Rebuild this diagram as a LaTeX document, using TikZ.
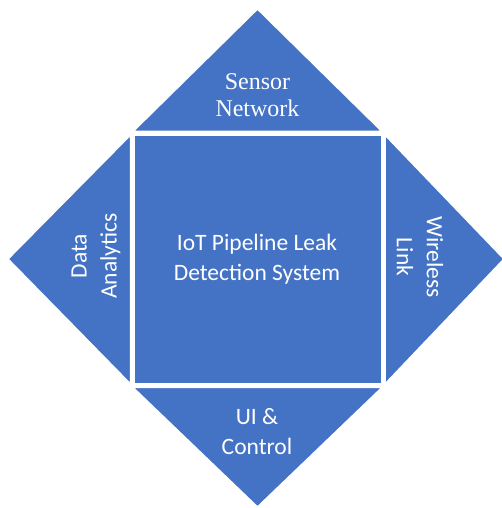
\documentclass[tikz,border=0pt]{standalone}
\usepackage{fontspec}
\setmainfont{Carlito}
\newfontfamily\serifface{Liberation Serif}
\definecolor{officeblue}{HTML}{4472C4}
\begin{document}
\begin{tikzpicture}[x=1pt,y=1pt,
  tri/.style={fill=officeblue,draw=white,line width=1.5pt,line join=miter},
  core/.style={fill=officeblue,draw=white,line width=2.2pt},
  lbl/.style={text=white,align=center,font=\fontsize{23.5}{30}\selectfont,inner sep=0pt},
  slbl/.style={text=white,align=center,font=\serifface\fontsize{24}{27.5}\selectfont,inner sep=0pt}]
\useasboundingbox (0,0) rectangle (502,508);
\begin{scope}
\clip (0,0) rectangle (502,508);
% triangles
\path[tri] (133,376.5) -- (382,376.5) -- (257.5,499) -- cycle;
\path[tri] (133,120.5) -- (382,120.5) -- (257.5,1) -- cycle;
\path[tri] (130.5,124) -- (130.5,373) -- (8,249) -- cycle;
\path[tri] (385,124) -- (385,373) -- (504,249) -- cycle;
% centre square
\path[core] (134,123.5) rectangle (382,373);
\end{scope}
\node[slbl] (top) at (257.5,413) {Sensor\\Network};
\node[lbl] (mid) at (257,249) {IoT Pipeline Leak\\Detection System};
\node[lbl,rotate=90] (left) at (96,252) {Data\\Analytics};
\node[lbl,rotate=-90] (right) at (420,251) {Wireless\\Link};
\node[lbl] (bottom) at (257,76) {UI \&\\Control};
\end{tikzpicture}
\end{document}
